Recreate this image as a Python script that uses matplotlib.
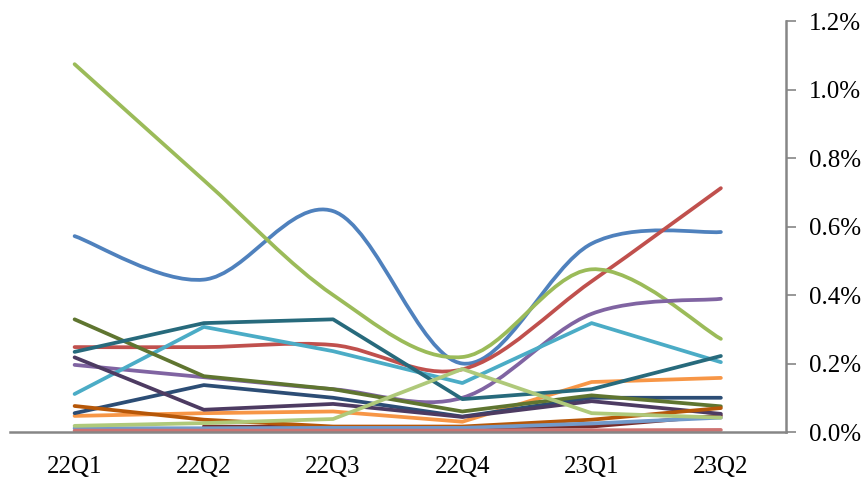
import numpy as np
import matplotlib.pyplot as plt
from matplotlib.path import Path
from matplotlib.patches import PathPatch

# quarters on the x axis
QUARTERS = ['22Q1', '22Q2', '22Q3', '22Q4', '23Q1', '23Q2']

# values in percent
BLUE = [0.572, 0.445, 0.645, 0.200, 0.550, 0.584]
RED = [0.248, 0.248, 0.254, 0.183, 0.440, 0.712]
GREEN = [1.074, 0.735, 0.400, 0.219, 0.475, 0.272]
PURPLE = [0.196, 0.160, 0.125, 0.100, 0.345, 0.389]
CYAN = [0.111, 0.307, 0.236, 0.143, 0.318, 0.204]
ORANGE = [0.047, 0.055, 0.060, 0.030, 0.146, 0.158]
NAVY = [0.055, 0.137, 0.100, 0.045, 0.100, 0.100]
MAROON = [np.nan, 0.016, 0.014, 0.014, 0.016, 0.048]
OLIVE = [0.329, 0.163, 0.125, 0.060, 0.107, 0.075]
DARK_PURPLE = [0.218, 0.065, 0.082, 0.044, 0.090, 0.053]
TEAL = [0.234, 0.318, 0.329, 0.096, 0.125, 0.222]
DARK_ORANGE = [0.076, 0.036, 0.016, 0.016, 0.036, 0.070]
LIGHT_BLUE = [0.011, 0.011, 0.012, 0.012, 0.025, 0.042]
PINK = [0.004, 0.004, 0.004, 0.004, 0.005, 0.006]
LIGHT_GREEN = [0.018, 0.026, 0.038, 0.184, 0.055, 0.042]

# (values, colour, smoothed) in excel drawing order
SERIES = [
    (BLUE, '#4F81BD', True),
    (RED, '#C0504D', True),
    (GREEN, '#9BBB59', True),
    (PURPLE, '#8064A2', True),
    (CYAN, '#4BACC6', False),
    (ORANGE, '#F79646', False),
    (NAVY, '#2C4D75', False),
    (MAROON, '#772C2A', False),
    (OLIVE, '#5F7530', False),
    (DARK_PURPLE, '#4D3B62', False),
    (TEAL, '#276A7C', False),
    (DARK_ORANGE, '#B65708', False),
    (LIGHT_BLUE, '#729ACA', False),
    (PINK, '#CD7371', False),
    (LIGHT_GREEN, '#AFC97A', False),
]

LW = 2.7
AXIS_GREY = '#868686'


def smooth_path(x, y):
    # bezier segments with excel-like control points (catmull-rom, tension 1/6)
    pts = np.column_stack([x, y])
    n = len(pts)
    verts = [pts[0]]
    codes = [Path.MOVETO]
    for i in range(n - 1):
        p0 = pts[max(i - 1, 0)]
        p1 = pts[i]
        p2 = pts[i + 1]
        p3 = pts[min(i + 2, n - 1)]
        c1 = p1 + (p2 - p0) / 6
        c2 = p2 - (p3 - p1) / 6
        verts += [c1, c2, p2]
        codes += [Path.CURVE4] * 3
    return Path(verts, codes)


plt.rcParams['font.family'] = ['Liberation Serif', 'DejaVu Serif']

fig = plt.figure(figsize=(8.67, 4.78), dpi=100)
ax = fig.add_axes([0.0115, 0.0962, 0.8945, 0.8598])

x = np.arange(len(QUARTERS))
for i, (vals, color, smooth) in enumerate(SERIES):
    vals = np.array(vals, dtype=float)
    if smooth:
        patch = PathPatch(smooth_path(x, vals), facecolor='none', edgecolor=color,
                          lw=LW, capstyle='round', joinstyle='round', zorder=2 + i * 0.01)
        ax.add_patch(patch)
    else:
        ax.plot(x, vals, color=color, lw=LW, solid_capstyle='round',
                solid_joinstyle='round', zorder=2 + i * 0.01)

ax.set_xlim(-0.5, len(QUARTERS) - 0.5)
ax.set_ylim(0, 1.2)
ax.set_xticks(x)
ax.set_xticklabels(QUARTERS, fontsize=18)
ax.set_yticks(np.arange(0, 1.21, 0.2))
ax.set_yticklabels(['%.1f%%' % v for v in np.arange(0, 1.21, 0.2)], fontsize=18)

ax.yaxis.tick_right()
ax.tick_params(axis='x', length=0, pad=17)
ax.tick_params(axis='y', length=7, width=1.2, color=AXIS_GREY, pad=10, direction='out')

for side in ['top', 'left']:
    ax.spines[side].set_visible(False)
for side in ['bottom', 'right']:
    ax.spines[side].set_color(AXIS_GREY)
    ax.spines[side].set_linewidth(1.8)
    ax.spines[side].set_zorder(5)

fig.savefig('out.png', dpi=100)
